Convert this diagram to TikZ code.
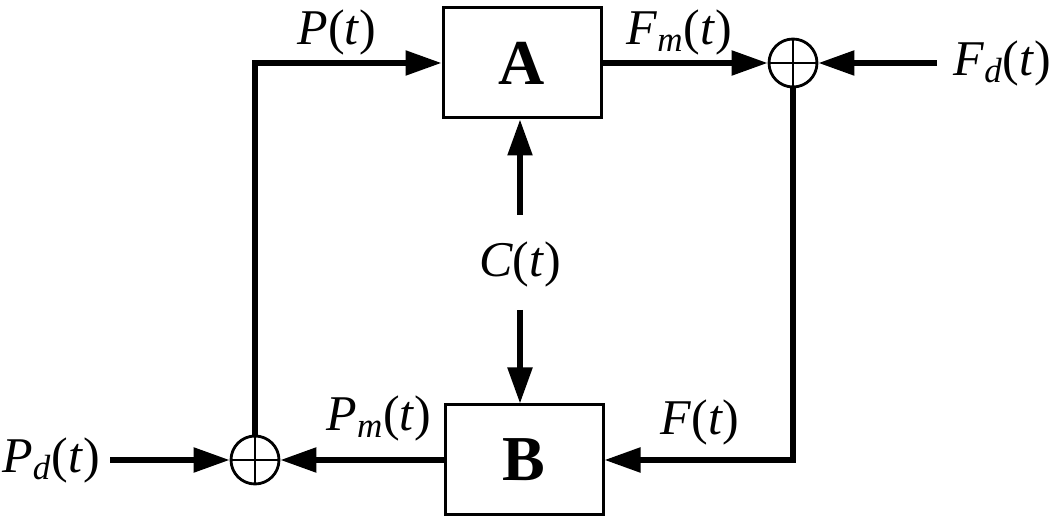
\documentclass[tikz,border=0pt]{standalone}
\usepackage{fontspec}
\setmainfont{Liberation Serif}
\usetikzlibrary{arrows.meta}
\tikzset{
  blk/.style={draw, line width=1.5pt, minimum width=79pt, minimum height=55pt, inner sep=0pt,
    font=\fontsize{32}{36}\selectfont\bfseries},
  sumnode/.style={draw, circle, line width=1.4pt, minimum size=24pt, inner sep=0pt,
    path picture={\draw[line width=1.4pt] (path picture bounding box.north) -- (path picture bounding box.south)
      (path picture bounding box.west) -- (path picture bounding box.east);}},
  sig/.style={line width=2.7pt, -{Triangle[length=18pt,width=12pt]}},
  lbl/.style={font=\fontsize{25}{30}\selectfont, inner sep=0pt},
}
\newcommand{\sgl}[1]{\textit{#1}(\textit{t})}
\newcommand{\sgs}[2]{\textit{#1}\textsubscript{\textit{#2}}(\textit{t})}
\begin{document}
\begin{tikzpicture}[x=0.5pt,y=-0.5pt]
  \useasboundingbox (0,0) rectangle (1050,517);
  % blocks and summing points
  \node[blk] (A) at (522,63) {A};
  \node[blk] (B) at (524,460) {B};
  \node[sumnode] (S1) at (793,63) {};
  \node[sumnode] (S2) at (255,460) {};
  \coordinate (Fd) at (937,63);
  \coordinate (Pd) at (110,460);
  \coordinate (C1) at (520,215);
  \coordinate (C2) at (520,310);
  % connectors
  \draw[sig] (S2.north) |- (A.west);
  \draw[sig] (A.east) -- (S1.west);
  \draw[sig] (Fd) -- (S1.east);
  \draw[sig] (S1.south) |- (B.east);
  \draw[sig] (B.west) -- (S2.east);
  \draw[sig] (Pd) -- (S2.west);
  \draw[sig] (C1) -- (C1 |- A.south);
  \draw[sig] (C2) -- (C2 |- B.north);
  % labels
  \node[lbl] (lP) at (337,32) {\sgl{P}};
  \node[lbl] (lFm) at (679,32) {\sgs{F}{m}};
  \node[lbl, anchor=west] (lFd) at (953,63) {\sgs{F}{d}};
  \node[lbl] (lC) at (520,264) {\sgl{C}};
  \node[lbl] (lPm) at (379,418) {\sgs{P}{m}};
  \node[lbl] (lF) at (700,422) {\sgl{F}};
  \node[lbl, anchor=west] (lPd) at (2,460) {\sgs{P}{d}};
\end{tikzpicture}
\end{document}
